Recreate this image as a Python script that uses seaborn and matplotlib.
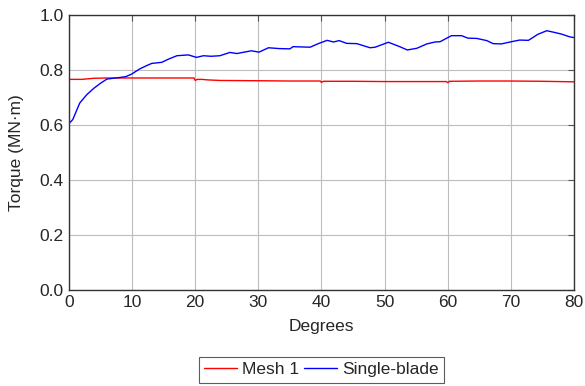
import numpy as np
import pandas as pd
import seaborn as sns
import matplotlib
matplotlib.use("Agg")
import matplotlib.pyplot as plt

# Single-blade torque
blade_deg = [0, 0.6, 1.7, 2.8, 3.9, 5.0, 6.0, 7.0, 8.1, 9.0, 9.9, 11.2, 12.2, 13.1, 14.7,
             15.7, 17.1, 18.9, 20.2, 21.3, 22.5, 23.9, 25.5, 26.6, 28.9, 30.1, 31.6,
             33.3, 35.0, 35.5, 38.2, 39.5, 40.9, 41.9, 42.8, 44.0, 45.6, 47.7, 48.5,
             50.6, 52.4, 53.6, 55.1, 56.7, 58.0, 58.8, 60.6, 62.2, 63.2, 64.6, 66.2,
             67.2, 68.5, 70.1, 71.4, 72.8, 74.3, 75.7, 76.7, 78.0, 79.3, 80.0]
blade_torque = [0.605, 0.62, 0.68, 0.71, 0.733, 0.752, 0.767, 0.770, 0.773, 0.776, 0.785,
                0.804, 0.815, 0.824, 0.828, 0.839, 0.852, 0.855, 0.846, 0.852, 0.850,
                0.852, 0.864, 0.860, 0.870, 0.865, 0.881, 0.878, 0.877, 0.885, 0.883,
                0.896, 0.908, 0.902, 0.907, 0.897, 0.896, 0.881, 0.883, 0.901, 0.885,
                0.873, 0.879, 0.895, 0.902, 0.903, 0.925, 0.925, 0.916, 0.915, 0.907,
                0.896, 0.895, 0.903, 0.909, 0.908, 0.930, 0.943, 0.938, 0.931, 0.921,
                0.918]

# Mesh 1 torque
mesh_deg = [0, 2, 4, 6, 10, 15, 19.8, 20.0, 20.3, 21, 22, 24, 30, 35, 39.8, 40.0, 40.3,
            45, 50, 55, 59.8, 60.0, 60.3, 65, 70, 75, 80]
mesh_torque = [0.766, 0.766, 0.770, 0.771, 0.771, 0.771, 0.771, 0.762, 0.766, 0.766,
               0.764, 0.762, 0.761, 0.760, 0.760, 0.755, 0.759, 0.759, 0.758, 0.758,
               0.758, 0.754, 0.759, 0.760, 0.760, 0.759, 0.757]

mesh = pd.DataFrame({"deg": mesh_deg, "torque": mesh_torque})
blade = pd.DataFrame({"deg": blade_deg, "torque": blade_torque})

sns.set_style("white")
plt.rcParams["font.family"] = ["Liberation Sans", "DejaVu Sans"]
fs = 12.5

fig = plt.figure(figsize=(5.85, 3.86), dpi=100)
ax = fig.add_axes([0.118, 0.249, 0.863, 0.712])

sns.lineplot(data=mesh, x="deg", y="torque", color="red", lw=1.0, label="Mesh 1", ax=ax)
sns.lineplot(data=blade, x="deg", y="torque", color="blue", lw=1.0, label="Single-blade", ax=ax)

ax.set_xlim(0, 80)
ax.set_ylim(0, 1.0)
ax.set_xticks(np.arange(0, 81, 10))
ax.set_yticks(np.arange(0, 1.01, 0.2))
ax.set_yticklabels(["0.0", "0.2", "0.4", "0.6", "0.8", "1.0"])
ax.grid(True, color="#bdbdbd", lw=0.8)
ax.tick_params(direction="in", length=4, color="#555555", top=True, right=True,
               labelsize=fs, pad=4)
for s in ax.spines.values():
    s.set_color("#333333")
    s.set_linewidth(1.0)
ax.set_xlabel("Degrees", fontsize=fs, labelpad=6)
ax.set_ylabel("Torque (MN\u00b7m)", fontsize=fs, labelpad=11)

leg = ax.legend(loc="upper center", bbox_to_anchor=(0.5, -0.244), ncol=2,
                frameon=True, fancybox=False, edgecolor="#333333", fontsize=fs,
                handlelength=1.9, handletextpad=0.3, columnspacing=0.3,
                borderpad=0.3, borderaxespad=0)
leg.get_frame().set_linewidth(0.8)

fig.savefig("out.png", dpi=100)
